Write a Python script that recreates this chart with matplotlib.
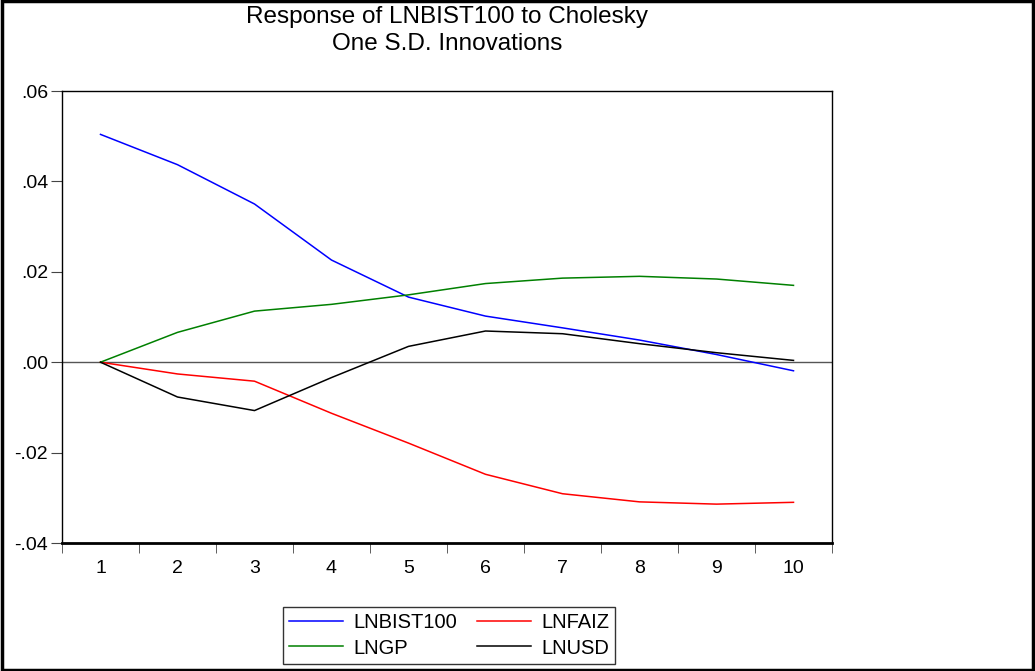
import matplotlib
matplotlib.use('Agg')
import matplotlib.pyplot as plt
from matplotlib.patches import Rectangle

# impulse response values
periods = [1, 2, 3, 4, 5, 6, 7, 8, 9, 10]
lnbist100 = [0.0504, 0.0437, 0.0350, 0.0226, 0.0144, 0.0102, 0.0076, 0.0049, 0.0017, -0.0019]
lnfaiz = [0.0, -0.0026, -0.0042, -0.0113, -0.0179, -0.0248, -0.0291, -0.0309, -0.0314, -0.0310]
lngp = [0.0, 0.0066, 0.0113, 0.0128, 0.0149, 0.0174, 0.0186, 0.0190, 0.0184, 0.0170]
lnusd = [0.0, -0.0077, -0.0107, -0.0034, 0.0035, 0.0069, 0.0063, 0.0041, 0.0021, 0.0004]
yticks = [-0.04, -0.02, 0.0, 0.02, 0.04, 0.06]
ylabels = ['-.04', '-.02', '.00', '.02', '.04', '.06']

plt.rcParams['font.family'] = ['Liberation Sans', 'DejaVu Sans']

fig = plt.figure(figsize=(10.35, 6.71), dpi=100)
W, H = 1035, 671
ax = fig.add_axes([62 / W, 1 - 543 / H, (832 - 62) / W, (543 - 91) / H])

ax.axhline(0, color='#555555', lw=1.0, zorder=1)
l1, = ax.plot(periods, lnbist100, color='#0000ff', lw=1.1, label='LNBIST100')
l2, = ax.plot(periods, lnfaiz, color='#ff0000', lw=1.1, label='LNFAIZ')
l3, = ax.plot(periods, lngp, color='#008000', lw=1.1, label='LNGP')
l4, = ax.plot(periods, lnusd, color='#000000', lw=1.1, label='LNUSD')

ax.set_xlim(0.5, 10.5)
ax.set_ylim(-0.04, 0.06)
ax.set_yticks(yticks)
ax.set_yticklabels(ylabels, fontsize=14)
ax.set_xticks(periods)
ax.set_xticklabels([str(p) for p in periods], fontsize=14)
ax.set_xticks([p + 0.5 for p in [0] + periods], minor=True)
ax.tick_params(axis='x', which='major', length=0, pad=12)
ax.tick_params(axis='x', which='minor', length=7, color='#444444', direction='out')
ax.tick_params(axis='y', length=8, color='#444444', direction='out', pad=2)

for s in ['top', 'left', 'right']:
    ax.spines[s].set_linewidth(1.0)
ax.spines['bottom'].set_linewidth(2.0)

fig.text(447 / W, 1 - 17 / H, 'Response of LNBIST100 to Cholesky', ha='center', va='center', fontsize=17.5)
fig.text(447 / W, 1 - 44 / H, 'One S.D. Innovations', ha='center', va='center', fontsize=17.5)

leg = fig.legend(handles=[l1, l3, l2, l4], ncol=2, loc='center',
                 bbox_to_anchor=(449 / W, 1 - 635.5 / H),
                 prop={'size': 14.5},
                 frameon=True, fancybox=False, edgecolor='black',
                 handlelength=2.7, columnspacing=1.0, handletextpad=0.5,
                 borderpad=0.3, labelspacing=0.3, borderaxespad=0)
leg.get_frame().set_linewidth(1.0)

fig.patches.append(Rectangle((0.002, 0.002), 0.996, 0.996, transform=fig.transFigure,
                             fill=False, edgecolor='black', lw=2.5))

fig.savefig('out.png', dpi=100)
